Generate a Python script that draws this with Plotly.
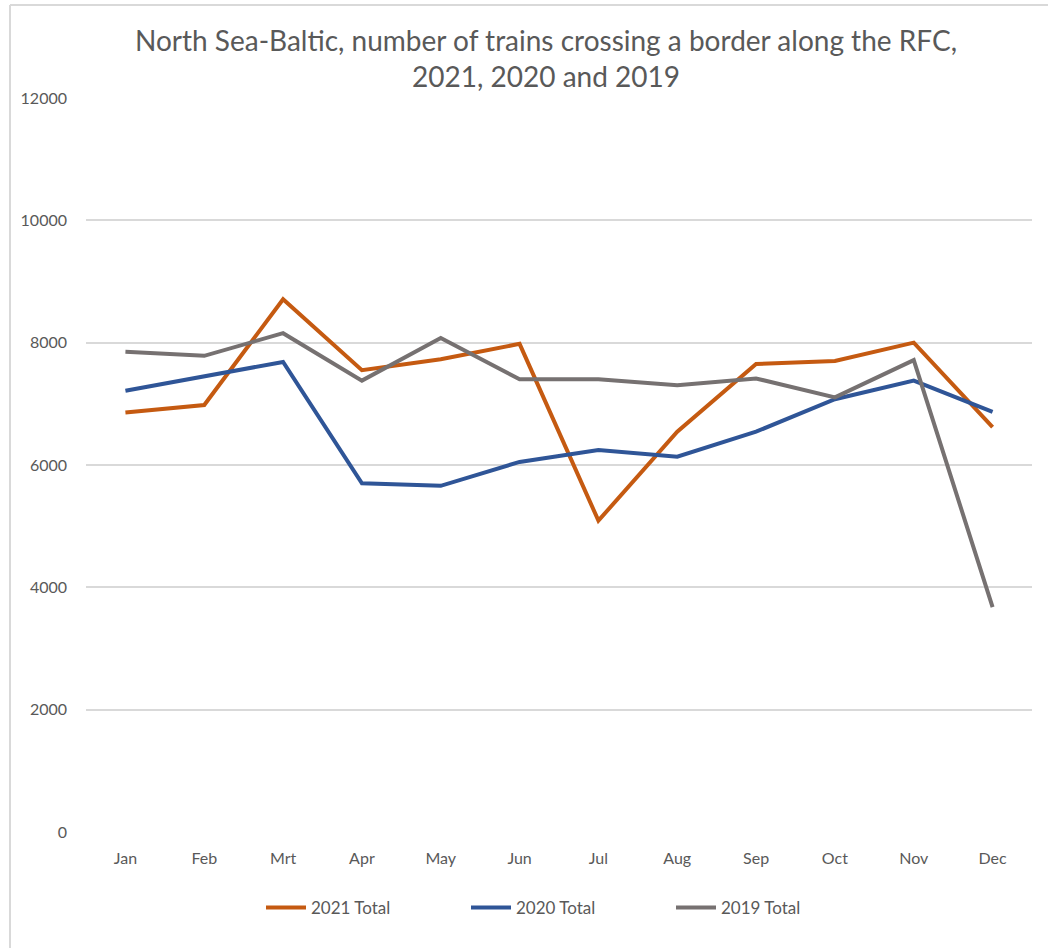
import plotly.graph_objects as go

months = ["Jan", "Feb", "Mrt", "Apr", "May", "Jun", "Jul", "Aug", "Sep", "Oct", "Nov", "Dec"]
total_2021 = [6860, 6980, 8710, 7550, 7730, 7980, 5090, 6545, 7650, 7700, 8000, 6620]
total_2020 = [7215, 7445, 7685, 5700, 5660, 6050, 6245, 6135, 6545, 7075, 7380, 6870]
total_2019 = [7850, 7785, 8155, 7380, 8075, 7400, 7400, 7305, 7415, 7105, 7715, 3675]
y_ticks = [0, 2000, 4000, 6000, 8000, 10000, 12000]

FONT = "Lato, Open Sans, sans-serif"
TXT = "#595959"

W, H = 1048, 948
L, R, T, B = 86, 16, 98, 116
PW, PH = W - L - R, H - T - B

def px(x):
    return (x - L) / PW

def py(y):
    return (H - B - y) / PH

fig = go.Figure()
series = [
    ("2021 Total", total_2021, "#C55A11"),
    ("2020 Total", total_2020, "#2F5597"),
    ("2019 Total", total_2019, "#767171"),
]
for name, vals, col in series:
    fig.add_trace(go.Scatter(x=months, y=vals, name=name, mode="lines",
                             line=dict(color=col, width=4)))

fig.update_layout(
    width=W, height=H,
    margin=dict(l=L, r=R, t=T, b=B),
    paper_bgcolor="white", plot_bgcolor="white",
    font=dict(family=FONT, size=16, color=TXT),
    title=dict(text="North Sea-Baltic, number of trains crossing a border along the RFC,<br>2021, 2020 and 2019",
               x=px(546), xref="paper", xanchor="center",
               y=1 - 51 / H, yanchor="middle",
               font=dict(family=FONT, size=28, color=TXT)),
    xaxis=dict(type="category", range=[-0.5, 11.5], showgrid=False, zeroline=False,
               showline=False, ticks="", tickfont=dict(size=16, color=TXT), ticklabelstandoff=15),
    yaxis=dict(range=[0, 12000], tickvals=y_ticks, tickformat="d", showgrid=True,
               gridcolor="#D9D9D9", gridwidth=1.5, zeroline=False, showline=False, ticks="",
               tickfont=dict(size=16, color=TXT), ticklabelstandoff=18),
    legend=dict(orientation="h", x=px(261), xanchor="left", y=py(908), yanchor="middle",
                font=dict(size=17, color=TXT), entrywidth=150, entrywidthmode="pixels",
                itemwidth=40),
    showlegend=True,
)
# chart frame (left and top edges)
fig.add_shape(type="line", xref="paper", yref="paper",
              x0=px(10), x1=px(10), y0=py(H), y1=py(5),
              line=dict(color="#D9D9D9", width=2), layer="below")
fig.add_shape(type="line", xref="paper", yref="paper",
              x0=px(10), x1=px(W), y0=py(5), y1=py(5),
              line=dict(color="#D9D9D9", width=2), layer="below")

fig.write_html("out.html", config={"displayModeBar": False},
               post_script="document.body.style.margin='0';")
